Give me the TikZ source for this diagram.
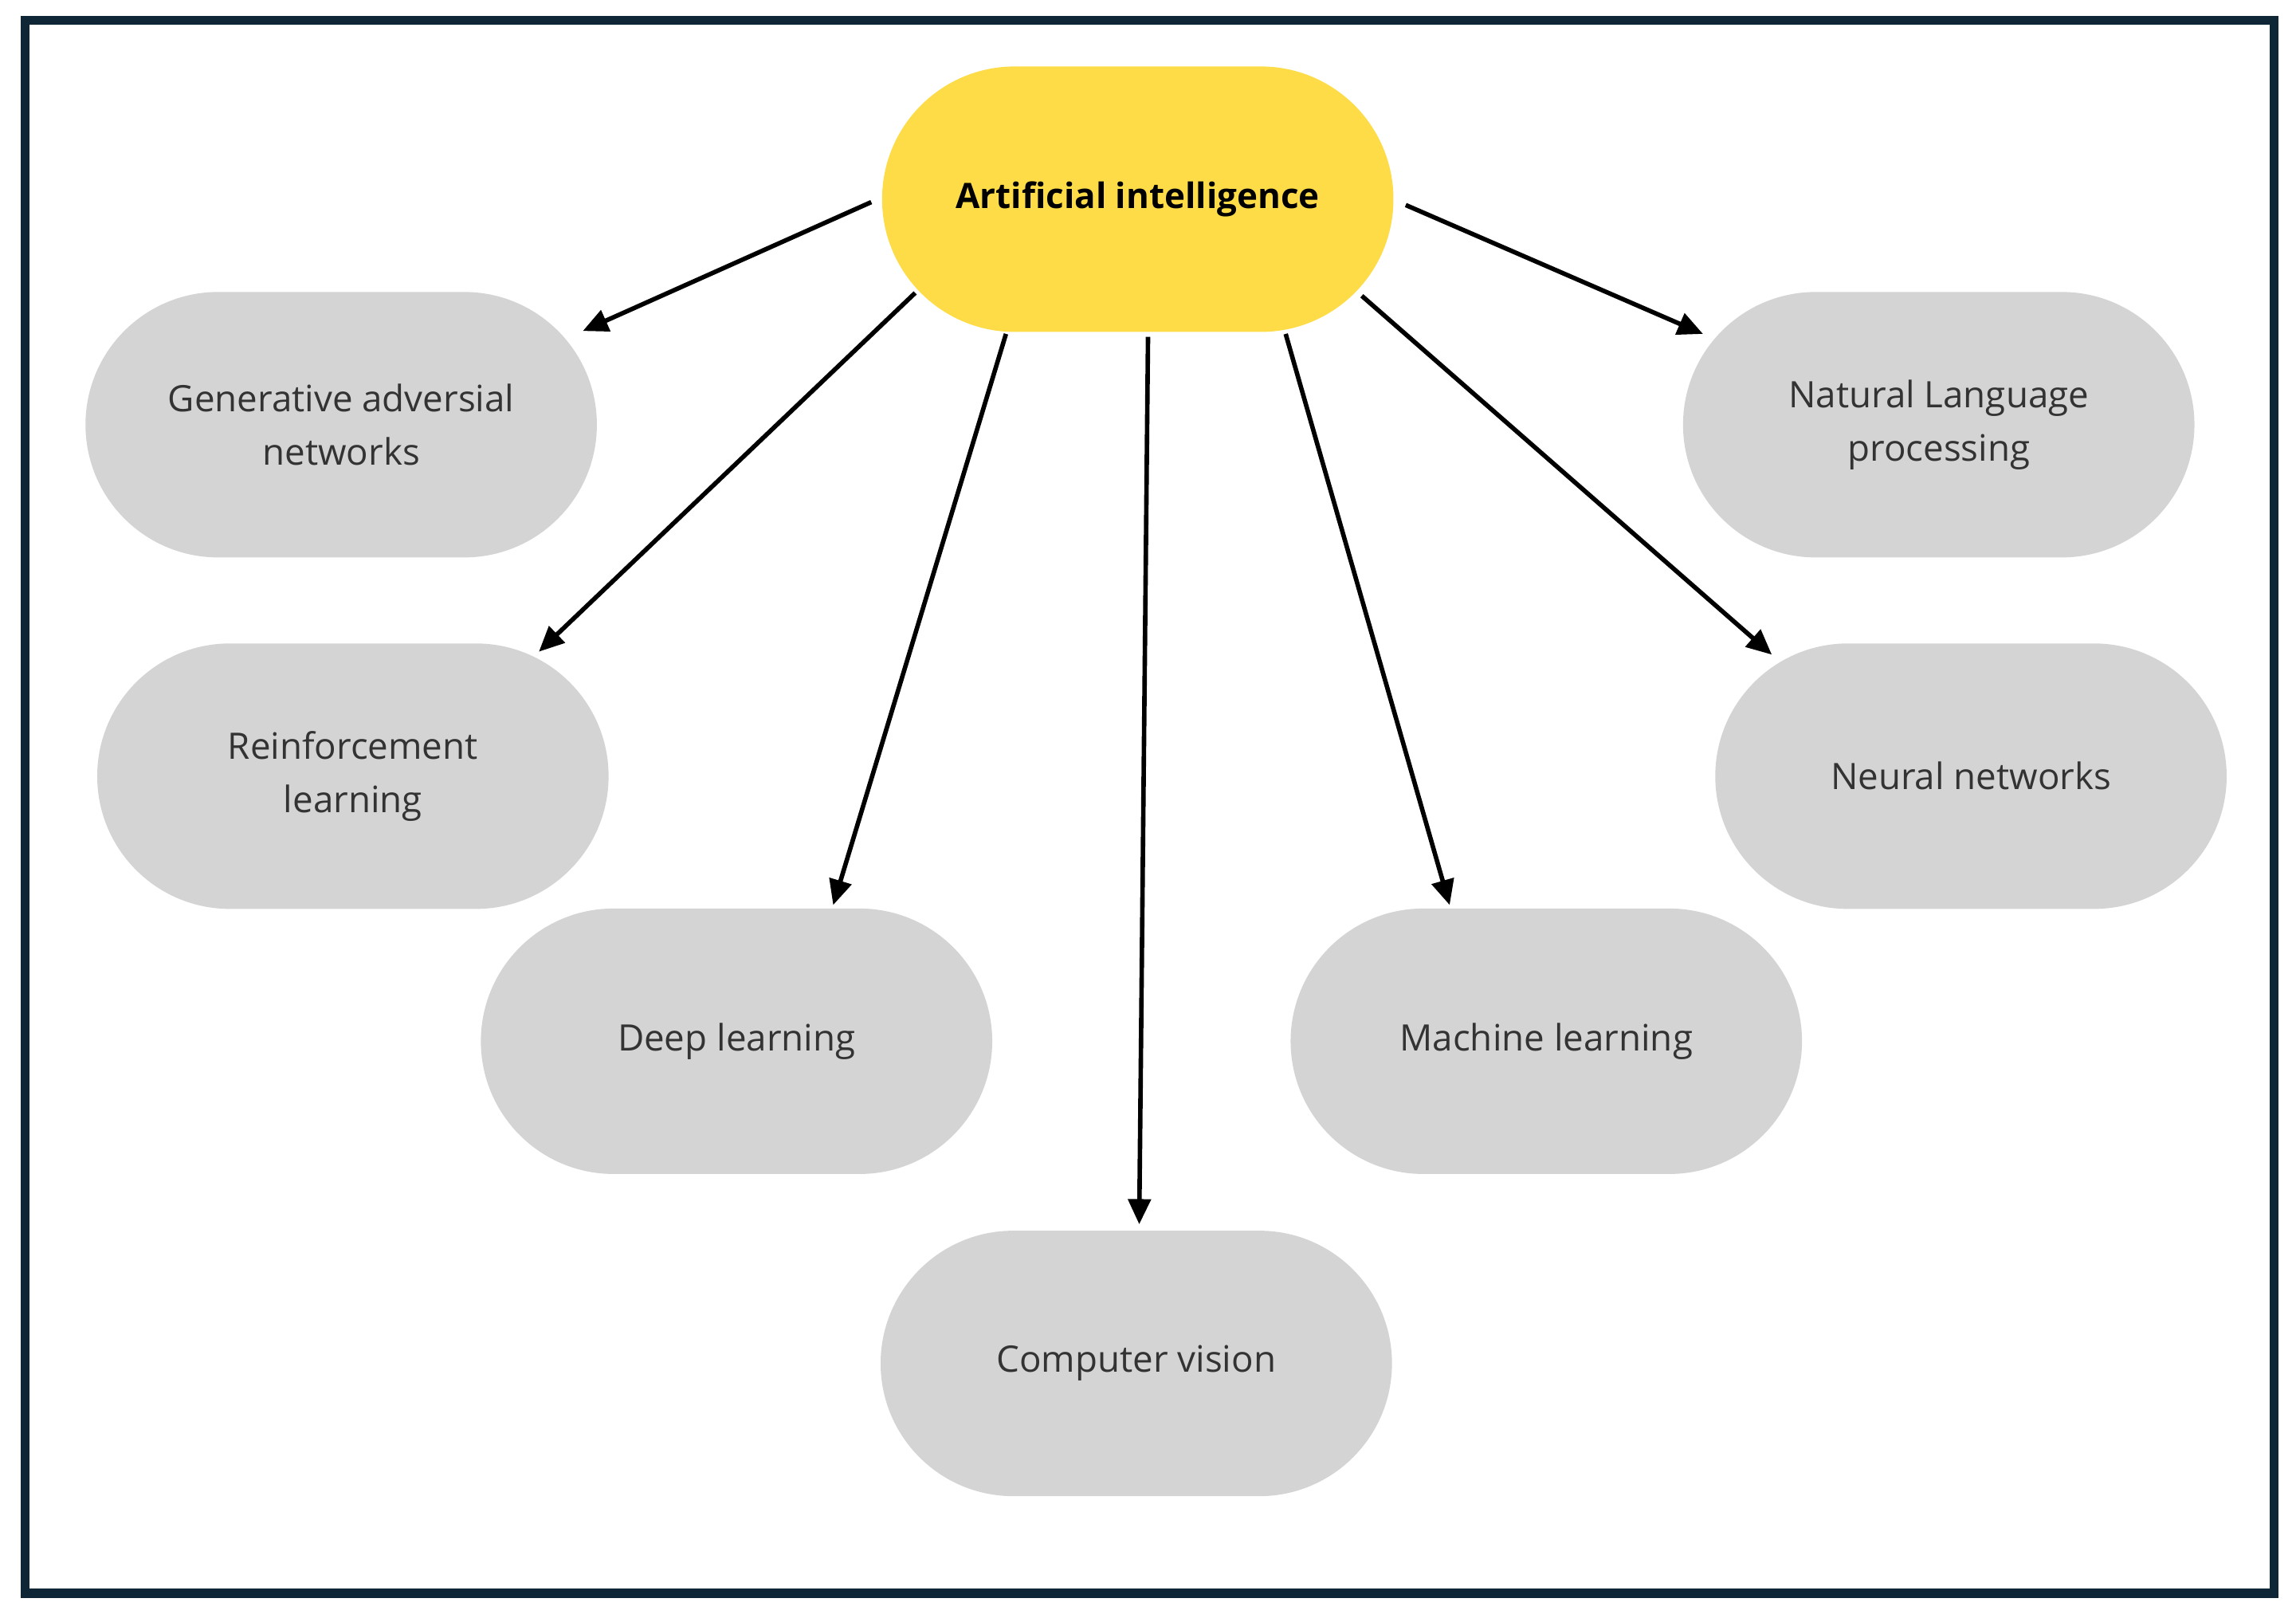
\documentclass[tikz,border=0pt]{standalone}
\usepackage{fontspec}
\setmainfont{Open Sans}
\usetikzlibrary{shapes.misc,arrows.meta}
\definecolor{frame}{HTML}{0F2636}
\definecolor{ai}{HTML}{FEDC48}
\definecolor{box}{HTML}{D4D4D4}
\definecolor{txt}{HTML}{333333}
\begin{document}
\begin{tikzpicture}[x=0.018374cm,y=-0.018374cm,
  pill/.style={rounded rectangle,minimum width=6.65cm,minimum height=3.33cm,fill=box,draw=none,
    text=txt,align=center,font=\fontsize{13}{19}\selectfont},
  arr/.style={line width=1.6pt,-{Triangle[length=9pt,width=8pt]}}]
\useasboundingbox (0,0) rectangle (1568,1102);
\fill[white] (0,0) rectangle (1568,1102);
\draw[frame,line width=3.2pt] (17,14) rectangle (1553,1088);
\node[pill,fill=ai,text=black,font=\bfseries\fontsize{12.5}{15}\selectfont] (ai) at (777,136) {Artificial intelligence};
\node[pill] (gan) at (233,290) {Generative adversial\\networks};
\node[pill] (nlp) at (1324,290) {Natural Language\\processing};
\node[pill] (rl) at (241,530) {Reinforcement\\learning};
\node[pill] (nn) at (1346,530) {Neural networks};
\node[pill] (dl) at (503,711) {Deep learning};
\node[pill] (ml) at (1056,711) {Machine learning};
\node[pill] (cv) at (776,931) {Computer vision};
\coordinate (tgan) at (398,226);
\coordinate (trl) at (368,445);
\coordinate (tdl) at (569,618);
\coordinate (tcv) at (778,836);
\coordinate (tml) at (990,618);
\coordinate (tnn) at (1210,447);
\coordinate (tnlp) at (1163,228);
\draw[arr] (ai.west |- 0,138) ++(0,0) coordinate (s1) (595,138) -- (tgan);
\draw[arr] (625,200) -- (trl);
\draw[arr] (687,228) -- (tdl);
\draw[arr] (784,230) -- (tcv);
\draw[arr] (878,228) -- (tml);
\draw[arr] (930,202) -- (tnn);
\draw[arr] (960,140) -- (tnlp);
\end{tikzpicture}
\end{document}
